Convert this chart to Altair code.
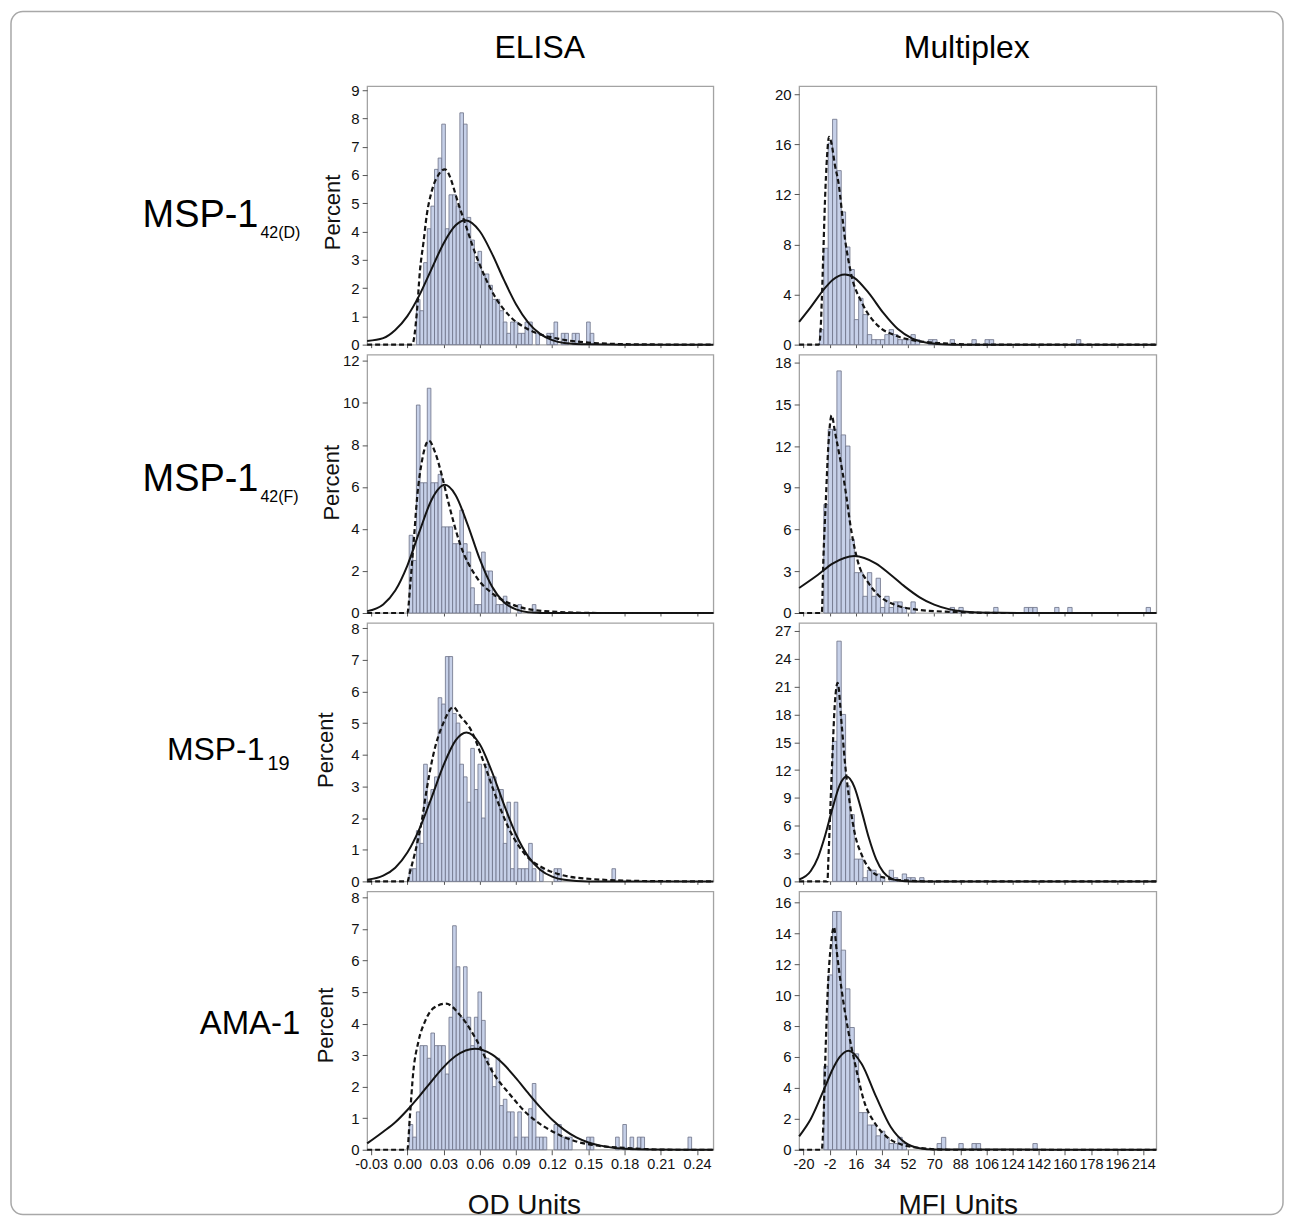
import altair as alt
import pandas as pd

FONT = "Liberation Sans"

# ---------------- bins ----------------
# ELISA histogram bin midpoints (OD units), bin width 0.003
elisa_bin_mid = [0.000, 0.003, 0.006, 0.009, 0.012, 0.015, 0.018, 0.021, 0.024, 0.027,
                 0.030, 0.033, 0.036, 0.039, 0.042, 0.045, 0.048, 0.051, 0.054, 0.057,
                 0.060, 0.063, 0.066, 0.069, 0.072, 0.075, 0.078, 0.081, 0.084, 0.087,
                 0.090, 0.093, 0.096, 0.099, 0.102, 0.105, 0.108, 0.111, 0.114, 0.117,
                 0.120, 0.123, 0.126, 0.129, 0.132, 0.135, 0.138, 0.141, 0.144, 0.147,
                 0.150, 0.153, 0.156, 0.159, 0.162, 0.165, 0.168, 0.171, 0.174, 0.177,
                 0.180, 0.183, 0.186, 0.189, 0.192, 0.195, 0.198, 0.201, 0.204, 0.207,
                 0.210, 0.213, 0.216, 0.219, 0.222, 0.225, 0.228, 0.231, 0.234, 0.237,
                 0.240]
ELISA_HALF_BIN = 0.0015

# Multiplex histogram bin lower edges (MFI units), bin width 3
mfi_bin_low = [-9, -6, -3, 0, 3, 6, 9, 12, 15, 18, 21, 24, 27, 30, 33, 36, 39, 42, 45, 48,
               51, 54, 57, 60, 63, 66, 69, 72, 75, 78, 81, 84, 87, 90, 93, 96, 99, 102, 105,
               108, 111, 114, 117, 120, 123, 126, 129, 132, 135, 138, 141, 144, 147, 150,
               153, 156, 159, 162, 165, 168, 171, 174, 177, 180, 183, 186, 189, 192, 195,
               198, 201, 204, 207, 210, 213, 216, 219]
MFI_BIN = 3

# ---------------- histogram percents ----------------
elisa_pct_42d = [0, 0, 0, 1.6, 1.2, 2.9, 4.1, 4.9, 6.2, 6.6,
                 7.8, 4.1, 5.3, 5.3, 4.9, 8.2, 7.8, 4.5, 3.7, 2.9,
                 3.3, 2.5, 2.5, 2.1, 1.6, 1.6, 1.2, 0.8, 0.4, 0.8,
                 0.8, 0.4, 0.4, 0.8, 0.8, 0, 0.4, 0, 0, 0.4,
                 0.4, 0.8, 0, 0.4, 0.4, 0, 0.4, 0.4, 0, 0,
                 0.8, 0.4] + [0] * 29
elisa_pct_42f = [0, 3.7, 2.5, 9.9, 6.2, 6.2, 10.7, 6.2, 6.2, 6.6,
                 4.1, 4.1, 4.1, 3.3, 3.3, 4.9, 3.3, 2.9, 1.2, 0.4,
                 0.4, 2.9, 2.0, 2.0, 0.8, 0.4, 0.4, 0.8, 0.4, 0,
                 0, 0.4, 0, 0, 0, 0.4] + [0] * 45
elisa_pct_19 = [0, 0.4, 0.4, 1.6, 1.2, 3.7, 2.5, 2.9, 3.3, 5.8,
                5.6, 7.1, 7.1, 5.3, 5.0, 3.7, 3.3, 2.5, 4.2, 2.9,
                3.7, 2.0, 3.7, 3.3, 3.3, 2.9, 2.9, 1.2, 2.5, 0.4,
                2.5, 0.4, 0.4, 0.4, 1.2, 0.4, 0, 0.4, 0, 0,
                0, 0.4, 0.4] + [0] * 14 + [0.4] + [0] * 23
elisa_pct_ama = [0, 0.8, 0.4, 1.2, 3.3, 3.3, 2.9, 3.7, 3.3, 3.3,
                 3.3, 2.4, 4.2, 7.1, 5.8, 4.2, 5.8, 4.2, 3.3, 4.2,
                 5.0, 4.1, 2.9, 2.6, 2.0, 2.9, 1.4, 1.6, 1.2, 1.2,
                 0.4, 1.2, 0.4, 0.4, 1.3, 2.1, 0.4, 0.4, 0.4, 0,
                 0, 0.8, 0.8, 0.4, 0.4, 0.4, 0, 0, 0, 0,
                 0.4, 0.4, 0, 0, 0, 0, 0, 0, 0.4, 0,
                 0.8, 0, 0.4, 0, 0.4, 0.4, 0, 0, 0, 0,
                 0, 0, 0, 0, 0, 0, 0, 0, 0.4, 0, 0]

mfi_pct_42d = [1.2, 7.7, 16.1, 18.0, 13.9, 10.6, 7.8, 6.0, 2.0, 3.7,
               2.4, 0.8, 0.4, 0.4, 0.4, 0.8, 1.2, 0.8, 0.4, 0.4,
               0.4, 0.8, 0.4, 0, 0, 0.4, 0.4, 0, 0, 0,
               0.4, 0, 0, 0, 0, 0.4, 0, 0, 0.4, 0.4] + [0] * 19 + [0.4] + [0] * 17
mfi_pct_42f = [0, 7.8, 13.2, 13.2, 17.4, 12.8, 12.0, 5.3, 2.9, 2.9,
               1.2, 2.9, 1.2, 2.5, 0.4, 1.2, 0.4, 0.8, 0.8, 0.4,
               0, 0.8] + [0] * 8 + [0.4, 0, 0.4] + [0] * 7 + [0.4] + [0] * 6 + \
              [0.4, 0.4, 0.4] + [0] * 4 + [0.4, 0, 0, 0.4] + [0] * 17 + [0.4, 0]
mfi_pct_19 = [0, 0, 0, 15.1, 25.9, 18.0, 10.3, 7.2, 2.4, 2.4,
              0.4, 1.2, 1.2, 0.8, 0.4, 0, 1.2, 0.4, 0, 0.8,
              0.4, 0.4, 0, 0.4] + [0] * 53
mfi_pct_ama = [0, 5.4, 11.3, 15.4, 15.4, 12.9, 10.4, 7.9, 6.2, 2.4,
               2.4, 1.6, 1.6, 0.9, 1.2, 0.8, 0.4, 0.4, 0.8, 0.4,
               0, 0, 0, 0, 0, 0, 0, 0.4, 0.8, 0,
               0, 0, 0.4, 0, 0, 0.4, 0.4] + [0] * 12 + [0.4] + [0] * 27

# ---------------- fitted curves ----------------
# solid = normal fit, dashed = second density fit
elisa_42d_norm_x = [-0.0333, -0.02, -0.01, 0.0, 0.01, 0.02, 0.03, 0.04, 0.048, 0.06, 0.07, 0.08, 0.09, 0.10, 0.11, 0.12, 0.13, 0.15, 0.18, 0.2535]
elisa_42d_norm_y = [0.13, 0.23, 0.52, 1.01, 1.75, 2.67, 3.58, 4.22, 4.4, 4.01, 3.23, 2.29, 1.43, 0.79, 0.38, 0.16, 0.06, 0.01, 0.0, 0.0]
elisa_42d_dash_x = [-0.0333, 0.004, 0.0078, 0.0105, 0.0133, 0.016, 0.020, 0.0257, 0.031, 0.0437, 0.0574, 0.0712, 0.085, 0.0988, 0.1126, 0.126, 0.154, 0.19, 0.2535]
elisa_42d_dash_y = [0, 0, 1.1, 2.65, 3.6, 4.56, 5.4, 6.0, 6.2, 4.8, 3.1, 1.8, 1.0, 0.57, 0.33, 0.2, 0.06, 0.01, 0]

elisa_42f_norm_x = [-0.0333, -0.02, -0.01, 0.0, 0.01, 0.02, 0.031, 0.04, 0.05, 0.06, 0.07, 0.08, 0.09, 0.10, 0.12, 0.2535]
elisa_42f_norm_y = [0.09, 0.41, 1.07, 2.26, 3.87, 5.38, 6.1, 5.61, 4.2, 2.56, 1.27, 0.51, 0.17, 0.04, 0, 0]
elisa_42f_dash_x = [-0.0333, 0.0, 0.0026, 0.0054, 0.0081, 0.0123, 0.0178, 0.0233, 0.0288, 0.0343, 0.0436, 0.0574, 0.0712, 0.085, 0.0988, 0.126, 0.16, 0.2535]
elisa_42f_dash_y = [0, 0, 1.5, 3.5, 5.5, 7.3, 8.2, 7.6, 6.5, 5.2, 3.3, 1.7, 0.9, 0.45, 0.2, 0.05, 0, 0]

elisa_19_norm_x = [-0.0333, -0.02, -0.01, 0.0, 0.01, 0.02, 0.03, 0.04, 0.049, 0.06, 0.07, 0.08, 0.09, 0.10, 0.11, 0.12, 0.13, 0.15, 0.2535]
elisa_19_norm_y = [0.05, 0.18, 0.43, 0.91, 1.66, 2.64, 3.67, 4.45, 4.7, 4.33, 3.47, 2.43, 1.48, 0.79, 0.37, 0.15, 0.05, 0, 0]
elisa_19_dash_x = [-0.0333, 0.0, 0.0022, 0.0063, 0.0119, 0.016, 0.0215, 0.0298, 0.0381, 0.0442, 0.0524, 0.0635, 0.0712, 0.085, 0.0988, 0.1126, 0.126, 0.154, 0.2, 0.2535]
elisa_19_dash_y = [0, 0, 0.3, 0.9, 1.9, 2.9, 4.0, 5.0, 5.5, 5.2, 4.8, 3.74, 2.9, 1.6, 0.8, 0.42, 0.22, 0.07, 0.01, 0]

elisa_ama_norm_x = [-0.0333, -0.02, -0.01, 0.0, 0.01, 0.02, 0.03, 0.04, 0.056, 0.07, 0.08, 0.09, 0.10, 0.11, 0.12, 0.13, 0.14, 0.15, 0.16, 0.18, 0.20, 0.2535]
elisa_ama_norm_y = [0.2, 0.57, 0.87, 1.26, 1.7, 2.17, 2.62, 2.97, 3.2, 3.02, 2.7, 2.27, 1.8, 1.35, 0.95, 0.63, 0.39, 0.23, 0.13, 0.03, 0.01, 0]
elisa_ama_dash_x = [-0.0333, 0.0, 0.002, 0.005, 0.009, 0.015, 0.022, 0.032, 0.044, 0.057, 0.071, 0.085, 0.099, 0.113, 0.126, 0.14, 0.154, 0.18, 0.22, 0.2535]
elisa_ama_dash_y = [0, 0, 1.0, 2.5, 3.4, 4.1, 4.5, 4.63, 4.25, 3.5, 2.44, 1.75, 1.15, 0.74, 0.47, 0.26, 0.15, 0.06, 0, 0]

mfi_42d_norm_x = [-23, -15, -5, 0, 8.5, 15, 25, 35, 45, 55, 65, 75, 90, 223]
mfi_42d_norm_y = [1.82, 3.0, 4.55, 5.16, 5.6, 5.34, 4.11, 2.53, 1.24, 0.48, 0.15, 0.04, 0, 0]
mfi_42d_dash_x = [-23, -9.5, -8.6, -7.4, -6.3, -5.2, -3.8, -2.4, -0.6, 1.7, 4, 8.5, 13.1, 20, 31.4, 42.8, 54.2, 77, 100, 223]
mfi_42d_dash_y = [0, 0, 0.5, 3.5, 7.5, 11.5, 15, 16.6, 16, 14.3, 13, 8.5, 5.5, 3.4, 1.5, 0.75, 0.37, 0.1, 0, 0]

mfi_42f_norm_x = [-23, -10, 0, 15, 30, 40, 50, 60, 70, 80, 90, 100, 115, 223]
mfi_42f_norm_y = [1.8, 2.75, 3.55, 4.1, 3.55, 2.75, 1.88, 1.13, 0.6, 0.28, 0.11, 0.04, 0.01, 0]
mfi_42f_dash_x = [-23, -7.4, -6.3, -4.7, -2.9, -0.6, 1.7, 8.5, 13.1, 17.7, 24.5, 31.4, 42.8, 54.2, 77, 120, 223]
mfi_42f_dash_y = [0, 0, 3.9, 7.9, 12, 14.2, 13.0, 9.1, 5.8, 3.6, 2.2, 1.3, 0.6, 0.3, 0.1, 0, 0]

mfi_19_norm_x = [-23, -15, -10, -5, 0, 5, 9.7, 15, 20, 25, 30, 35, 40, 45, 55, 223]
mfi_19_norm_y = [0.2, 1.12, 2.6, 5.0, 7.9, 10.4, 11.3, 10.2, 7.6, 4.7, 2.4, 1.0, 0.35, 0.1, 0, 0]
mfi_19_dash_x = [-23, -3.5, -2.9, -0.6, 1.7, 3.5, 6.3, 8.5, 12, 15.4, 20, 26.8, 35.9, 49.6, 70, 223]
mfi_19_dash_y = [0, 0, 2.2, 11.5, 19.4, 21.4, 16.9, 12.9, 8.3, 5.1, 2.9, 1.1, 0.4, 0.1, 0, 0]

mfi_ama_norm_x = [-23, -15, -5, 0, 5, 11, 20, 30, 40, 50, 60, 70, 223]
mfi_ama_norm_y = [0.87, 1.99, 4.1, 5.19, 6.0, 6.4, 5.56, 3.43, 1.49, 0.46, 0.1, 0.02, 0]
mfi_ama_dash_x = [-23, -7.4, -6.3, -5.2, -3.3, -1.05, 1.0, 2.8, 6.3, 10.8, 15.4, 22.2, 29.1, 38.2, 47.4, 58.8, 80, 223]
mfi_ama_dash_y = [0, 0, 1.7, 5.2, 10.3, 13.3, 14.4, 12.9, 10.3, 7.7, 5.6, 3.0, 1.73, 0.77, 0.34, 0.13, 0, 0]

# ---------------- axes ----------------
elisa_ticks = [-0.03, 0.0, 0.03, 0.06, 0.09, 0.12, 0.15, 0.18, 0.21, 0.24]
mfi_ticks = [-20, -2, 16, 34, 52, 70, 88, 106, 124, 142, 160, 178, 196, 214]
elisa_xdomain = [-0.0333, 0.2535]
mfi_xdomain = [-23, 223]

row_ymax_elisa = [9.14, 12.3, 8.16, 8.19]
row_yticks_elisa = [[0, 1, 2, 3, 4, 5, 6, 7, 8, 9], [0, 2, 4, 6, 8, 10, 12],
                    [0, 1, 2, 3, 4, 5, 6, 7, 8], [0, 1, 2, 3, 4, 5, 6, 7, 8]]
row_ymax_mfi = [20.64, 18.57, 27.86, 16.7]
row_yticks_mfi = [[0, 4, 8, 12, 16, 20], [0, 3, 6, 9, 12, 15, 18],
                  [0, 3, 6, 9, 12, 15, 18, 21, 24, 27], [0, 2, 4, 6, 8, 10, 12, 14, 16]]

W_E, W_M, H = 347, 358, 259
BAR_FILL = "#c6d0e8"
BAR_STROKE = "#6c7186"
LINE = "#141414"

elisa_series = [
    (elisa_pct_42d, elisa_42d_norm_x, elisa_42d_norm_y, elisa_42d_dash_x, elisa_42d_dash_y),
    (elisa_pct_42f, elisa_42f_norm_x, elisa_42f_norm_y, elisa_42f_dash_x, elisa_42f_dash_y),
    (elisa_pct_19, elisa_19_norm_x, elisa_19_norm_y, elisa_19_dash_x, elisa_19_dash_y),
    (elisa_pct_ama, elisa_ama_norm_x, elisa_ama_norm_y, elisa_ama_dash_x, elisa_ama_dash_y),
]
mfi_series = [
    (mfi_pct_42d, mfi_42d_norm_x, mfi_42d_norm_y, mfi_42d_dash_x, mfi_42d_dash_y),
    (mfi_pct_42f, mfi_42f_norm_x, mfi_42f_norm_y, mfi_42f_dash_x, mfi_42f_dash_y),
    (mfi_pct_19, mfi_19_norm_x, mfi_19_norm_y, mfi_19_dash_x, mfi_19_dash_y),
    (mfi_pct_ama, mfi_ama_norm_x, mfi_ama_norm_y, mfi_ama_dash_x, mfi_ama_dash_y),
]

percent_title_x = [-35, -36, -42, -42]
percent_title_y = [126, 128, 127, 134]


def text_layer(txt, x, y, size, align="center", baseline="middle"):
    return alt.Chart(pd.DataFrame({"t": [txt]})).mark_text(
        font=FONT, fontSize=size, align=align, baseline=baseline, color="#000"
    ).encode(text="t:N", x=alt.value(x), y=alt.value(y))


def label_expr(fmt):
    return ("datum.value < 0 ? '-' + format(-datum.value, '%s') : format(datum.value, '%s')"
            % (fmt, fmt))


def panel(col, r, extra):
    bottom = (r == 3)
    if col == "elisa":
        pct, nx, ny, dx, dy = elisa_series[r]
        x0 = [m - ELISA_HALF_BIN for m in elisa_bin_mid]
        x1 = [m + ELISA_HALF_BIN for m in elisa_bin_mid]
        xdom, xticks, width, fmt = elisa_xdomain, elisa_ticks, W_E, ".2f"
        ymax, yticks = row_ymax_elisa[r], row_yticks_elisa[r]
        xtitle, xtitle_x, lab_size = "OD Units", 157, 14.5
        ytitle = "Percent"
    else:
        pct, nx, ny, dx, dy = mfi_series[r]
        x0 = list(mfi_bin_low)
        x1 = [b + MFI_BIN for b in mfi_bin_low]
        xdom, xticks, width, fmt = mfi_xdomain, mfi_ticks, W_M, "d"
        ymax, yticks = row_ymax_mfi[r], row_yticks_mfi[r]
        xtitle, xtitle_x, lab_size = "MFI Units", 159, 14.5
        ytitle = ""

    xscale = alt.Scale(domain=xdom, nice=False, zero=False)
    yscale = alt.Scale(domain=[0, ymax], nice=False, zero=True)

    if bottom:
        xaxis = alt.Axis(values=xticks, labelExpr=label_expr(fmt), labelFontSize=lab_size,
                         labelFont=FONT, labelPadding=3, tickSize=5, labelOverlap=False,
                         labelFlush=False, labelSeparation=0, title=xtitle, titleFont=FONT,
                         titleFontSize=28, titleFontWeight="normal", titleX=xtitle_x,
                         titleY=56, titleBaseline="middle", titleAlign="center")
    else:
        xaxis = alt.Axis(values=xticks, labels=False, tickSize=3, title="", labelOverlap=False)

    yaxis_kwargs = dict(values=yticks, format="d", labelFontSize=15, labelFont=FONT,
                        labelPadding=3, tickSize=5, labelOverlap=False, labelFlush=False,
                        labelSeparation=0)
    if ytitle:
        yaxis = alt.Axis(title=ytitle, titleFont=FONT, titleFontSize=22, titleFontWeight="normal",
                         titleAngle=270, titleX=percent_title_x[r], titleY=percent_title_y[r],
                         titleAlign="center", titleBaseline="middle", **yaxis_kwargs)
    else:
        yaxis = alt.Axis(title="", **yaxis_kwargs)

    X = alt.X("x:Q", scale=xscale, axis=xaxis)
    Y = alt.Y("y:Q", scale=yscale, axis=yaxis)

    bars_df = pd.DataFrame({"x": x0, "x2": x1, "y": pct})
    bars = alt.Chart(bars_df).transform_filter("datum.y > 0").mark_rect(
        fill=BAR_FILL, stroke=BAR_STROKE, strokeWidth=0.8
    ).encode(x=X, x2="x2:Q", y=Y, y2=alt.datum(0))
    normal = alt.Chart(pd.DataFrame({"x": nx, "y": ny})).mark_line(
        color=LINE, strokeWidth=2, interpolate="monotone"
    ).encode(x=X, y=Y)
    dashed = alt.Chart(pd.DataFrame({"x": dx, "y": dy})).mark_line(
        color=LINE, strokeWidth=2.2, strokeDash=[5, 3], interpolate="monotone"
    ).encode(x=X, y=Y)

    return alt.layer(bars, normal, dashed, *extra).properties(width=width, height=H)


# row labels (relative to ELISA panel origin)
row_labels = [
    [text_layer("MSP-1", -109, 141, 38, "right", "alphabetic"),
     text_layer("42(D)", -107, 152, 16, "left", "alphabetic")],
    [text_layer("MSP-1", -109, 137, 38, "right", "alphabetic"),
     text_layer("42(F)", -107, 148, 16, "left", "alphabetic")],
    [text_layer("MSP-1", -103, 137, 32, "right", "alphabetic"),
     text_layer("19", -100, 147, 20, "left", "alphabetic")],
    [text_layer("AMA-1", -67, 143, 33, "right", "alphabetic")],
]

border = alt.Chart(pd.DataFrame({"a": [0]})).mark_rect(
    fillOpacity=0, stroke="#a8a8a8", strokeWidth=1.5, cornerRadius=12
).encode(x=alt.value(-357), x2=alt.value(918), y=alt.value(-75), y2=alt.value(1131))

cells = []
for r in range(4):
    e_extra = list(row_labels[r])
    m_extra = []
    if r == 0:
        e_extra += [text_layer("ELISA", 173, -38, 32), border]
        m_extra += [text_layer("Multiplex", 168, -38, 32)]
    cells.append(panel("elisa", r, e_extra))
    cells.append(panel("mfi", r, m_extra))

chart = alt.concat(
    *cells, columns=2, spacing={"row": 10, "column": 86}, bounds="flush"
).properties(
    padding={"left": 1, "top": 0, "right": 2, "bottom": 2}
).configure(
    font=FONT, background="white"
).configure_view(
    stroke="#a3a3a3", strokeWidth=1.3
).configure_axis(
    grid=False, domain=False, tickColor="#555555", labelColor="#111111",
    titleColor="#111111", labelOverlap=False
)

chart.save("out.html", embed_options={"renderer": "svg", "actions": False})
